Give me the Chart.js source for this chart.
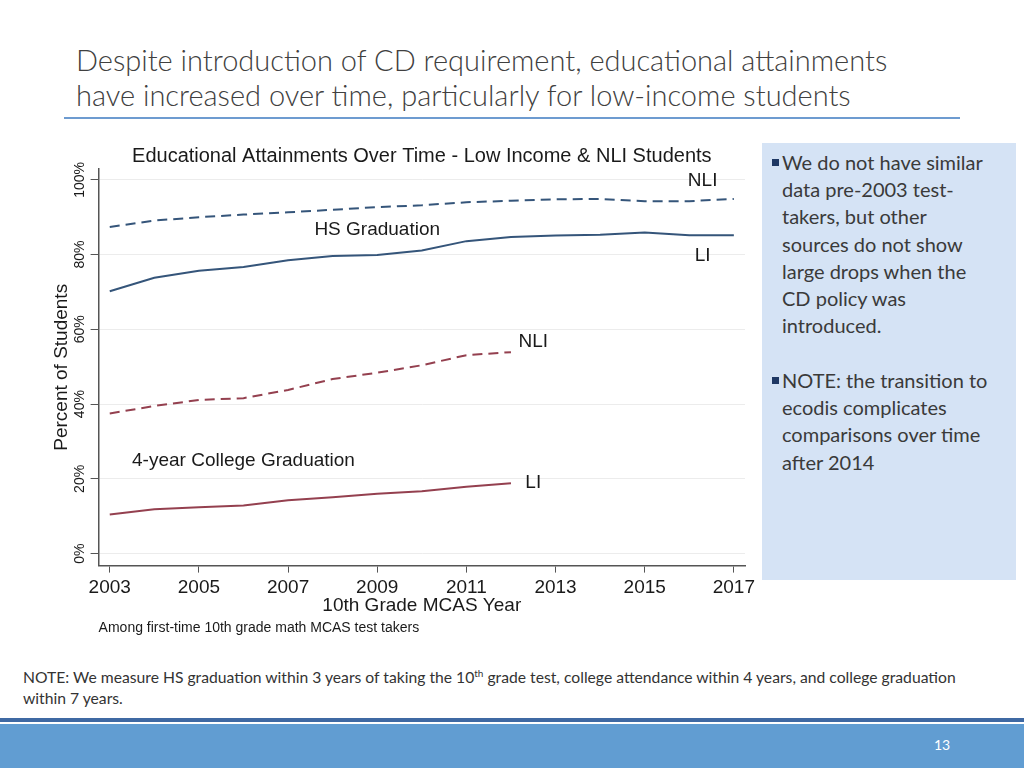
<!DOCTYPE html>
<html>
<head>
<meta charset="utf-8">
<script src="https://cdn.jsdelivr.net/npm/chart.js@4.4.1/dist/chart.umd.min.js"></script>
<style>
  body { margin: 0; background: #fff; }
  #slide { position: relative; width: 1024px; height: 768px; overflow: hidden; background: #fff; }
  #title { position: absolute; left: 76px; top: 42px; font-family: Lato, "Open Sans", sans-serif; font-weight: 300; font-size: 29px; line-height: 35px; color: #404040; white-space: nowrap; }
  #rule { position: absolute; left: 64px; top: 117px; width: 896px; height: 2px; background: #6d9bd0; }
  #chartBox { position: absolute; left: 40px; top: 138px; width: 720px; height: 505px; }
  #side { position: absolute; left: 762px; top: 143px; width: 254px; height: 437px; background: #d5e3f5; }
  .item { position: absolute; left: 20px; font-family: Lato, "Open Sans", sans-serif; font-size: 20px; line-height: 27.2px; color: #3a3a3a; white-space: nowrap; }
  .item::before { content: ""; position: absolute; left: -10px; top: 10px; width: 7px; height: 7px; background: #1f3864; }
  #note { position: absolute; left: 23px; top: 663px; font-family: Lato, "Open Sans", sans-serif; font-size: 15.7px; line-height: 21px; color: #333; white-space: nowrap; }
  #note sup { font-size: 10px; }
  #darkBar { position: absolute; left: 0; top: 718px; width: 1024px; height: 4px; background: #3f69a3; }
  #lightBar { position: absolute; left: 0; top: 724px; width: 1024px; height: 44px; background: #619dd2; }
  #pageNum { position: absolute; left: 934px; top: 736px; font-family: Lato, "Open Sans", sans-serif; font-size: 14px; color: #fff; }
</style>
</head>
<body>
<div id="slide">
  <div id="title">Despite introduction of CD requirement, educational attainments<br>have increased over time, particularly for low-income students</div>
  <div id="rule"></div>
  <div id="chartBox"><canvas id="eduChart" width="720" height="505"></canvas></div>
  <div id="side">
    <div class="item" style="top: 6px;">We do not have similar<br>data pre-2003 test-<br>takers, but other<br>sources do not show<br>large drops when the<br>CD policy was<br>introduced.</div>
    <div class="item" style="top: 224px;">NOTE: the transition to<br>ecodis complicates<br>comparisons over time<br>after 2014</div>
  </div>
  <div id="note">NOTE: We measure HS graduation within 3 years of taking the 10<sup>th</sup> grade test, college attendance within 4 years, and college graduation<br>within 7 years.</div>
  <div id="darkBar"></div>
  <div id="lightBar"></div>
  <div id="pageNum">13</div>
</div>
<script>
const years = [2003, 2004, 2005, 2006, 2007, 2008, 2009, 2010, 2011, 2012, 2013, 2014, 2015, 2016, 2017];
const hsNli = [87.4, 89.1, 90.0, 90.7, 91.3, 92.0, 92.7, 93.2, 94.0, 94.4, 94.8, 94.9, 94.3, 94.3, 94.9];
const hsLi = [70.2, 73.8, 75.7, 76.7, 78.5, 79.6, 79.9, 81.1, 83.6, 84.7, 85.1, 85.3, 85.9, 85.2, 85.2];
const colNli = [37.5, 39.5, 41.1, 41.6, 43.8, 46.7, 48.4, 50.4, 53.1, 53.9];
const colLi = [10.5, 11.9, 12.4, 12.9, 14.3, 15.1, 16.0, 16.7, 17.9, 18.8];

const xTicks = [2003, 2005, 2007, 2009, 2011, 2013, 2015, 2017];
const yTicks = [0, 20, 40, 60, 80, 100];

// text labels placed inside the plot (year, percent)
const labelText = ["NLI", "LI", "HS Graduation", "NLI", "4-year College Graduation", "LI"];
const labelYear = [2016.3, 2016.3, 2009.0, 2012.5, 2006.0, 2012.5];
const labelValue = [99.7, 79.7, 86.6, 56.7, 24.9, 19.0];

const chartFont = "'Liberation Sans', Arial, sans-serif";
const hsColour = "#35557a";
const colColour = "#94404f";

const toPoints = (values) => values.map((v, i) => ({ x: years[i], y: v }));

const lineLabels = {
  id: "lineLabels",
  afterDatasetsDraw(chart) {
    const ctx = chart.ctx;
    const xs = chart.scales.x;
    const ys = chart.scales.y;
    ctx.save();
    ctx.font = "19px " + chartFont;
    ctx.fillStyle = "#1a1a1a";
    ctx.textAlign = "center";
    ctx.textBaseline = "middle";
    for (let i = 0; i < labelText.length; i++) {
      ctx.fillText(labelText[i], xs.getPixelForValue(labelYear[i]), ys.getPixelForValue(labelValue[i]));
    }
    ctx.restore();
  },
};

let eduChart = new Chart(document.querySelector("#eduChart").getContext("2d"), {
  type: "line",
  data: {
    datasets: [
      { label: "HS NLI", data: toPoints(hsNli), borderColor: hsColour, borderDash: [10, 6] },
      { label: "HS LI", data: toPoints(hsLi), borderColor: hsColour },
      { label: "College NLI", data: toPoints(colNli), borderColor: colColour, borderDash: [10, 6] },
      { label: "College LI", data: toPoints(colLi), borderColor: colColour },
    ],
  },
  options: {
    responsive: false,
    animation: false,
    layout: { padding: { left: 10, right: 15, top: 0, bottom: 6 } },
    elements: {
      line: { borderWidth: 2, tension: 0, fill: false },
      point: { radius: 0 },
    },
    plugins: {
      legend: { display: false },
      tooltip: { enabled: false },
      title: {
        display: true,
        fullSize: false,
        text: "Educational Attainments Over Time - Low Income & NLI Students",
        color: "#1a1a1a",
        font: { family: chartFont, size: 20, weight: "normal" },
        padding: { top: 6, bottom: 1 },
      },
      subtitle: {
        display: true,
        fullSize: false,
        position: "bottom",
        align: "start",
        text: "Among first-time 10th grade math MCAS test takers",
        color: "#1a1a1a",
        font: { family: chartFont, size: 14 },
        padding: { top: 3, bottom: 0 },
      },
    },
    scales: {
      x: {
        type: "linear",
        min: 2002.75,
        max: 2017.25,
        afterBuildTicks: (axis) => {
          axis.ticks = xTicks.map((v) => ({ value: v }));
        },
        ticks: {
          color: "#1a1a1a",
          font: { family: chartFont, size: 19 },
          padding: 4,
          maxRotation: 0,
          callback: (v) => String(v),
        },
        grid: { drawOnChartArea: false, tickColor: "#555", tickLength: 7 },
        border: { color: "#555", width: 1.5 },
        title: {
          display: true,
          text: "10th Grade MCAS Year",
          color: "#1a1a1a",
          font: { family: chartFont, size: 19 },
          padding: { top: -9, bottom: 0 },
        },
      },
      y: {
        min: -3.2,
        max: 102.9,
        afterBuildTicks: (axis) => {
          axis.ticks = yTicks.map((v) => ({ value: v }));
        },
        ticks: {
          color: "#1a1a1a",
          font: { family: chartFont, size: 14 },
          minRotation: 90,
          maxRotation: 90,
          crossAlign: "center",
          padding: -7,
          callback: (v) => v + "%",
        },
        grid: { color: "#ececec", tickColor: "#555", tickLength: 8 },
        border: { color: "#555", width: 1.5 },
        title: {
          display: true,
          text: "Percent of Students",
          color: "#1a1a1a",
          font: { family: chartFont, size: 19 },
          padding: { top: 0, bottom: 15 },
        },
      },
    },
  },
  plugins: [lineLabels],
});
</script>
</body>
</html>
